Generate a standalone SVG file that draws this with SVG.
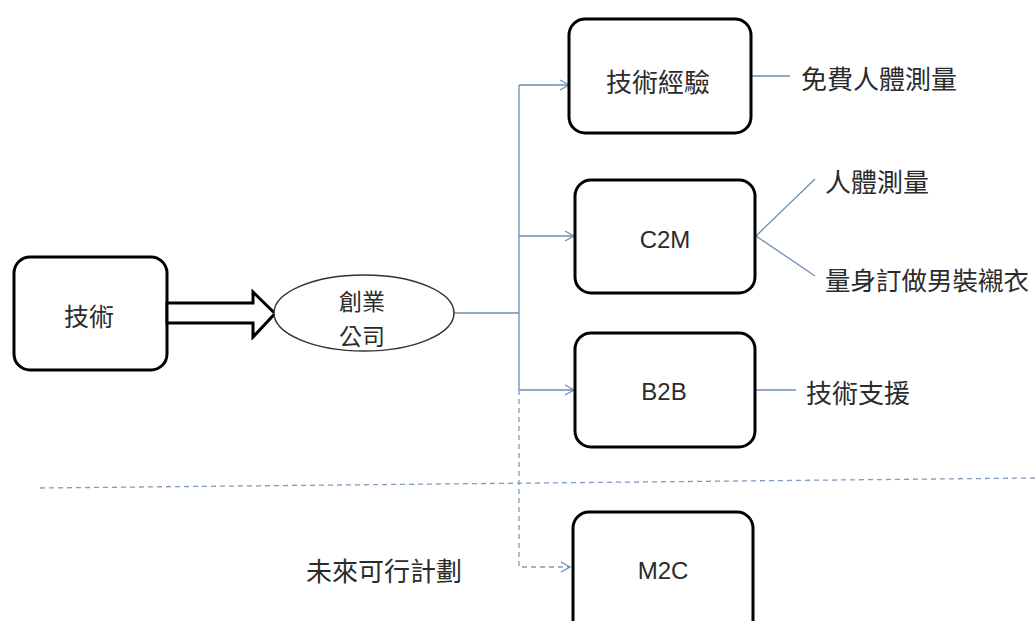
<svg xmlns="http://www.w3.org/2000/svg" width="1035" height="621" viewBox="0 0 1035 621">
<style>
.box{fill:#fff;stroke:#000;stroke-width:3}
.cjk{font-family:"Noto Sans CJK TC","Noto Sans CJK SC",sans-serif;font-size:26px;fill:#2b2b2b}
.lat{font-family:"Liberation Sans",Arial,sans-serif;font-size:24px;fill:#2b2b2b}
.con{fill:none;stroke:#6c8db3;stroke-width:1.3}
.dash{fill:none;stroke:#7f9cbf;stroke-width:1.3;stroke-dasharray:5 4}
</style>
<defs>
<marker id="arr" markerWidth="12" markerHeight="12" refX="10" refY="6" orient="auto" markerUnits="userSpaceOnUse">
<path d="M1,1 L10,6 L1,11" fill="none" stroke="#6c8db3" stroke-width="1.3"/>
</marker>
</defs>
<g id="connectors">
<line class="con" x1="453" y1="313" x2="519" y2="313"/>
<line class="con" x1="519" y1="85" x2="519" y2="390"/>
<line class="con" x1="519" y1="85" x2="569" y2="85" marker-end="url(#arr)"/>
<line class="con" x1="519" y1="236" x2="574" y2="236" marker-end="url(#arr)"/>
<line class="con" x1="519" y1="390" x2="574" y2="390" marker-end="url(#arr)"/>
<polyline class="dash" points="519,390 519,567 570,567" marker-end="url(#arr)"/>
<line class="con" x1="752" y1="76" x2="790" y2="76"/>
<line class="con" x1="756" y1="236" x2="815" y2="179"/>
<line class="con" x1="756" y1="236" x2="815" y2="276"/>
<line class="con" x1="756" y1="390" x2="796" y2="390"/>
<line class="dash" x1="40" y1="488" x2="1035" y2="478"/>
</g>
<g id="tech">
<rect class="box" x="14" y="257" width="153" height="113" rx="16"/>
<text class="cjk" x="89" y="315" text-anchor="middle" dominant-baseline="central" style="font-size:25px">技術</text>
</g>
<g id="bigarrow">
<polygon points="167,303 253,303 253,292 275,313.5 253,337 253,323 167,323" fill="#fff" stroke="#000" stroke-width="3" stroke-linejoin="miter"/>
</g>
<g id="startup">
<ellipse cx="364" cy="313" rx="90" ry="38" fill="#fff" stroke="#333" stroke-width="1.5"/>
<text class="cjk" x="362" y="300" text-anchor="middle" dominant-baseline="central" style="font-size:23px">創業</text>
<text class="cjk" x="362" y="335" text-anchor="middle" dominant-baseline="central" style="font-size:23px">公司</text>
</g>
<g id="exp">
<rect class="box" x="569" y="19" width="182" height="114" rx="16"/>
<text class="cjk" x="658" y="80" text-anchor="middle" dominant-baseline="central">技術經驗</text>
</g>
<g id="c2m">
<rect class="box" x="575" y="180" width="180" height="113" rx="16"/>
<text class="lat" x="665" y="239" text-anchor="middle" dominant-baseline="central">C2M</text>
</g>
<g id="b2b">
<rect class="box" x="575" y="333" width="180" height="114" rx="16"/>
<text class="lat" x="664" y="391" text-anchor="middle" dominant-baseline="central">B2B</text>
</g>
<g id="m2c">
<rect class="box" x="573" y="512" width="180" height="125" rx="16"/>
<text class="lat" x="663" y="570" text-anchor="middle" dominant-baseline="central">M2C</text>
</g>
<g id="labels">
<text class="cjk" x="801" y="77" dominant-baseline="central">免費人體測量</text>
<text class="cjk" x="825" y="180" dominant-baseline="central">人體測量</text>
<text class="cjk" x="825" y="278" dominant-baseline="central" style="font-size:25.5px">量身訂做男裝襯衣</text>
<text class="cjk" x="806" y="391" dominant-baseline="central">技術支援</text>
<text class="cjk" x="306" y="569" dominant-baseline="central">未來可行計劃</text>
</g>
</svg>
